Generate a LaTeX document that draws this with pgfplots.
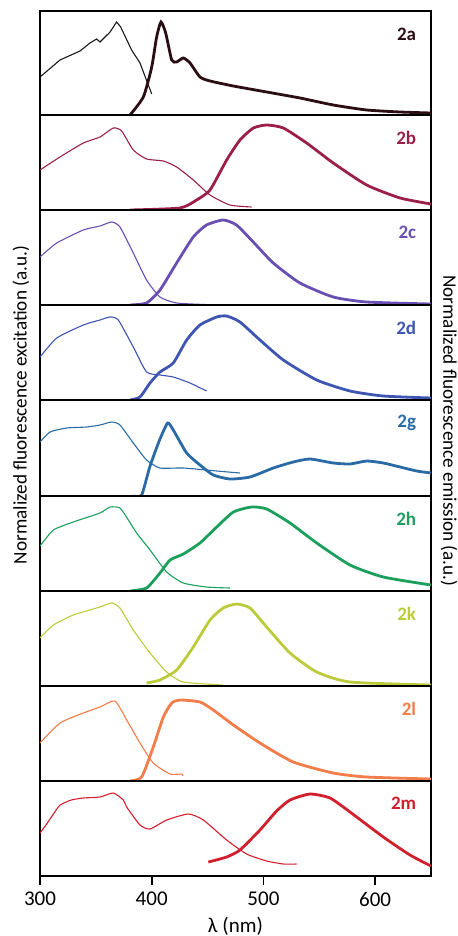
\documentclass[border=0pt]{standalone}
\usepackage{fontspec}
\setmainfont{Carlito}
\usepackage{pgfplots}
\pgfplotsset{compat=1.18}
\definecolor{ca}{HTML}{2B0D14}
\definecolor{cb}{HTML}{9B1F48}
\definecolor{cc}{HTML}{6A4FB3}
\definecolor{cd}{HTML}{3E55B2}
\definecolor{cg}{HTML}{2A6AA5}
\definecolor{ch}{HTML}{1C9E5C}
\definecolor{ck}{HTML}{BCCB3C}
\definecolor{cl}{HTML}{F27C4A}
\definecolor{cm}{HTML}{D11F2D}
\pgfplotsset{
  panel/.style={anchor=north west, width=195.5pt, scale only axis,
    xmin=300, xmax=650, ymin=0, ymax=95,
    axis line style={line width=0.9pt}, ytick=\empty, xtick=\empty,
    clip=true},
  ex/.style={line width=0.55pt, smooth, tension=0.35, no marks},
  em/.style={line width=1.4pt, smooth, tension=0.35, no marks},
}
\tikzset{lab/.style={anchor=east, font=\fontsize{9.5pt}{11pt}\selectfont\bfseries}}
\begin{document}
\begin{tikzpicture}
\path[use as bounding box] (0,0) rectangle (229pt,-468pt);
% 2a
\begin{axis}[panel, at={(20pt,-5.5pt)}, height=52pt, ymax=104]
\addplot[ex, color=black!90, sharp plot] coordinates {(300,38)(317.9,55)(335.8,64)(344.8,72)(350.7,76)(353.7,73)(362.7,83)(368.6,93)(372.2,88)(382,65)(389.5,52)(400,21)};
\addplot[em, color=ca] coordinates {(380.6,0)(392.5,18)(400,48)(404.4,78)(408.3,93)(412.5,82)(417.9,55)(422.3,53)(428.3,57)(434.3,52)(443.2,38)(452.2,34)(473,29)(502.9,23)(532.7,17)(562.5,10)(592.4,5)(622.3,3)(650,2)};
\node[lab, color=ca] at (rel axis cs:0.98,0.78) {2a};
\end{axis}
% 2b
\begin{axis}[panel, at={(20pt,-57.5pt)}, height=47.5pt]
\addplot[ex, color=cb] coordinates {(300,40)(317.9,53)(338.8,67)(353.7,73)(365.6,82)(373.1,79)(383.5,60)(395.4,51)(410.4,49)(422.3,43)(437.2,30)(452.2,15)(470,5)(489.5,3)};
\addplot[em, color=cb] coordinates {(380.6,0)(425.3,2)(440.2,10)(452.2,20)(467.1,50)(479,70)(491,82)(502.9,85)(517.8,82)(538.7,67)(562.5,47)(592.4,25)(622.3,12)(650,6)};
\node[lab, color=cb] at (rel axis cs:0.98,0.763) {2b};
\end{axis}
% 2c
\begin{axis}[panel, at={(20pt,-105pt)}, height=47.5pt]
\addplot[ex, color=cc] coordinates {(300,48)(315,62)(338.8,75)(353.7,79)(364.2,83)(371.6,78)(383.5,52)(395.4,25)(407.4,8)(422.3,2)(447.7,0.5)};
\addplot[em, color=cc] coordinates {(380.6,0)(395.4,2)(407.4,15)(422.3,42)(437.2,68)(449.1,80)(464,85)(475.9,80)(490.9,63)(508.8,42)(532.7,22)(562.5,8)(592.4,3)(650,1)};
\node[lab, color=cc] at (rel axis cs:0.98,0.763) {2c};
\end{axis}
% 2d
\begin{axis}[panel, at={(20pt,-152.5pt)}, height=47.5pt]
\addplot[ex, color=cd] coordinates {(300,43)(315,62)(338.8,75)(353.7,80)(362.7,83)(370.1,80)(383.5,53)(395.4,28)(407.4,25)(419.3,23)(434.3,17)(449.1,9)};
\addplot[em, color=cd] coordinates {(380.6,0)(389.5,3)(398.5,17)(407.4,28)(419.3,37)(431.3,60)(443.2,75)(458.2,83)(467.1,84)(479,78)(496.9,60)(517.8,40)(547.7,20)(577.5,9)(607.3,4)(650,2)};
\node[lab, color=cd] at (rel axis cs:0.98,0.763) {2d};
\end{axis}
% 2g
\begin{axis}[panel, at={(20pt,-200pt)}, height=48pt, ymax=96]
\addplot[ex, color=cg] coordinates {(300,54)(309,64)(323.9,68)(341.8,69)(353.7,71)(364.2,74)(371.6,71)(383.5,53)(395.4,36)(407.4,28)(428.3,28)(458.2,25)(479,23)};
\addplot[em, color=cg] coordinates {(383.5,0)(391,1)(398.5,30)(407.4,57)(414.3,73)(419.3,66)(431.3,43)(443.2,31)(455.1,21)(470,17)(488,19)(508.8,28)(526.7,34)(541.7,37)(562.5,33)(577.5,32)(592.4,35)(607.3,33)(622.3,29)(637.2,25)(650,23)};
\node[lab, color=cg] at (rel axis cs:0.98,0.763) {2g};
\end{axis}
% 2h
\begin{axis}[panel, at={(20pt,-248pt)}, height=47.5pt]
\addplot[ex, color=ch] coordinates {(300,45)(312,61)(329.8,69)(353.7,78)(362.7,84)(371.6,83)(379.1,71)(386.5,58)(398.5,41)(413.4,19)(428.3,8)(449.1,4)(470,3)};
\addplot[em, color=ch] coordinates {(380.6,0)(395.4,3)(407.4,18)(416.4,31)(428.3,37)(443.2,48)(458.2,64)(473.1,79)(489.5,84)(502.9,82)(523.8,68)(547.7,48)(577.5,26)(607.3,14)(650,6)};
\node[lab, color=ch] at (rel axis cs:0.98,0.763) {2h};
\end{axis}
% 2k
\begin{axis}[panel, at={(20pt,-295.5pt)}, height=47.5pt]
\addplot[ex, color=ck] coordinates {(300,48)(312,61)(329.8,71)(353.7,79)(364.2,83)(371.6,78)(383.5,56)(398.5,33)(413.4,14)(428.3,4)(464,1)};
\addplot[em, color=ck] coordinates {(395.4,3)(407.4,6)(422.3,16)(437.2,39)(452.2,66)(464,78)(475.9,82)(488,78)(502.9,59)(523.8,33)(547.7,14)(577.5,4)(650,1)};
\node[lab, color=ck] at (rel axis cs:0.98,0.763) {2k};
\end{axis}
% 2l
\begin{axis}[panel, at={(20pt,-343pt)}, height=47.5pt]
\addplot[ex, color=cl] coordinates {(300,38)(317.9,58)(338.8,68)(353.7,74)(367.1,80)(377.6,61)(389.5,38)(401.4,18)(416.4,7)(426.8,7)(428,5)};
\addplot[em, color=cl] coordinates {(380.6,0)(391,4)(401.4,34)(410.4,64)(417.9,78)(425.3,81)(443.2,79)(455.1,71)(473.1,56)(496.9,38)(526.7,19)(562.5,8)(592.4,4)(650,2)};
\node[lab, color=cl] at (rel axis cs:0.98,0.763) {2l};
\end{axis}
% 2m
\begin{axis}[panel, at={(20pt,-390.5pt)}, height=47.5pt,
  xtick={300,400,500,600}, tick align=outside, xtick pos=bottom,
  major tick length=4.5pt, tick style={line width=0.9pt, black},
  ticklabel style={font=\fontsize{10.5pt}{12pt}\selectfont},
  /pgf/number format/assume math mode=true]
\addplot[ex, color=cm] coordinates {(300,43)(306,52)(312,62)(318,71)(328,76)(338.8,78)(353.7,79)(365.6,83)(374.6,76)(377.6,69)(389.5,51)(398.5,47)(413.4,56)(432.8,62)(446.2,56)(467.1,36)(485,22)(502.9,15)(517.8,12)(529.8,12)};
\addplot[em, color=cm] coordinates {(450.7,14)(467.1,19)(479,26)(496.9,46)(511.8,65)(523.8,76)(541.7,82)(559.6,78)(577.5,64)(607.3,39)(631.2,21)(650,10)};
\node[lab, color=cm] at (rel axis cs:0.98,0.763) {2m};
\end{axis}
\node[rotate=90, font=\fontsize{9.6pt}{11pt}\selectfont] at (10.5pt,-202.5pt) {Normalized fluorescence excitation (a.u.)};
\node[rotate=-90, font=\fontsize{9.6pt}{11pt}\selectfont] at (224.5pt,-215.5pt) {Normalized fluorescence emission (a.u.)};
\node[font=\fontsize{10.5pt}{12pt}\selectfont] at (117.75pt,-463pt) {λ (nm)};
\end{tikzpicture}
\end{document}
